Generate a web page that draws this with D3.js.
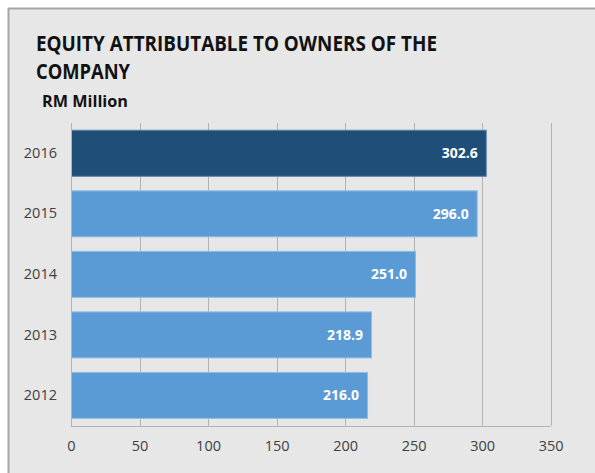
<!DOCTYPE html>
<html><head><meta charset="utf-8">
<script src="https://cdn.jsdelivr.net/npm/d3@7/dist/d3.min.js"></script>
<style>body{margin:0;background:#fff;} svg{display:block;}</style>
</head><body>
<script>
const years = ["2016","2015","2014","2013","2012"];
const values = [302.6, 296.0, 251.0, 218.9, 216.0];
const highlight = ["2016"];
const xTicks = [0,50,100,150,200,250,300,350];
const titleLines = ["EQUITY ATTRIBUTABLE TO OWNERS OF THE","COMPANY"];
const subtitle = "RM Million";

const W=595,H=473;
const svg=d3.select("body").append("svg").attr("width",W).attr("height",H);
svg.append("rect").attr("x",8).attr("y",8).attr("width",W-8).attr("height",H-8)
  .attr("fill","#e7e7e7");
svg.append("line").attr("x1",8).attr("x2",W).attr("y1",8.5).attr("y2",8.5).attr("stroke","#a6a6a6").attr("stroke-width",2);
svg.append("line").attr("x1",8.5).attr("x2",8.5).attr("y1",8).attr("y2",H).attr("stroke","#a6a6a6").attr("stroke-width",2);

const font="'Open Sans', 'Liberation Sans', sans-serif";
svg.append("text").attr("x",36).attr("y",50.5).attr("font-family",font).attr("font-weight","bold")
  .attr("font-size",21).attr("fill","#111").text(titleLines[0])
  .attr("textLength",401).attr("lengthAdjust","spacingAndGlyphs");
svg.append("text").attr("x",36).attr("y",78.5).attr("font-family",font).attr("font-weight","bold")
  .attr("font-size",21).attr("fill","#111").text(titleLines[1])
  .attr("textLength",94).attr("lengthAdjust","spacingAndGlyphs");
svg.append("text").attr("x",42).attr("y",107).attr("font-family",font).attr("font-weight","bold")
  .attr("font-size",15.5).attr("fill","#111").text(subtitle)
  .attr("textLength",86).attr("lengthAdjust","spacingAndGlyphs");

const m={l:71,r:550.7,t:123,b:425.7};
const x=d3.scaleLinear().domain([0,350]).range([m.l,m.r]);
const y=d3.scaleBand().domain(years).range([m.t,m.b]).paddingInner(0.24).paddingOuter(0.12);

// grid
svg.append("g").selectAll("line").data(xTicks).join("line")
  .attr("x1",d=>Math.round(x(d))+0.5).attr("x2",d=>Math.round(x(d))+0.5)
  .attr("y1",m.t).attr("y2",m.b).attr("stroke","#b3b3b3").attr("stroke-width",1);
svg.append("line").attr("x1",m.l).attr("x2",m.r).attr("y1",Math.round(m.b)+0.5).attr("y2",Math.round(m.b)+0.5)
  .attr("stroke","#b3b3b3");

// bars
svg.append("g").selectAll("rect").data(years).join("rect")
  .attr("x",x(0)+0.5).attr("y",d=>y(d))
  .attr("width",(d,i)=>x(values[i])-x(0)).attr("height",y.bandwidth())
  .attr("fill",d=>highlight.includes(d)?"#1f4e79":"#5b9bd5")
  .attr("stroke",d=>highlight.includes(d)?"#5a7fa6":"#8fbde6").attr("stroke-width",1);

// value labels
svg.append("g").selectAll("text").data(years).join("text")
  .attr("x",(d,i)=>x(values[i])-8).attr("y",d=>y(d)+y.bandwidth()/2)
  .attr("dy","0.35em").attr("text-anchor","end").attr("font-family",font).attr("font-weight","bold")
  .attr("font-size",14).attr("fill","#fff").text((d,i)=>values[i].toFixed(1));

// y axis
const ya=svg.append("g").attr("transform",`translate(${m.l},0)`)
  .call(d3.axisLeft(y).tickSize(0).tickPadding(14));
ya.select(".domain").attr("stroke","#b3b3b3");
ya.selectAll("text").attr("font-family",font).attr("font-size",14.5).attr("fill","#404040");

// x axis
const xa=svg.append("g").attr("transform",`translate(0,${m.b})`)
  .call(d3.axisBottom(x).tickValues(xTicks).tickSize(0).tickPadding(15).tickFormat(d3.format("d")));
xa.select(".domain").remove();
xa.selectAll("text").attr("font-family",font).attr("font-size",14.5).attr("fill","#404040");
</script>
</body></html>
